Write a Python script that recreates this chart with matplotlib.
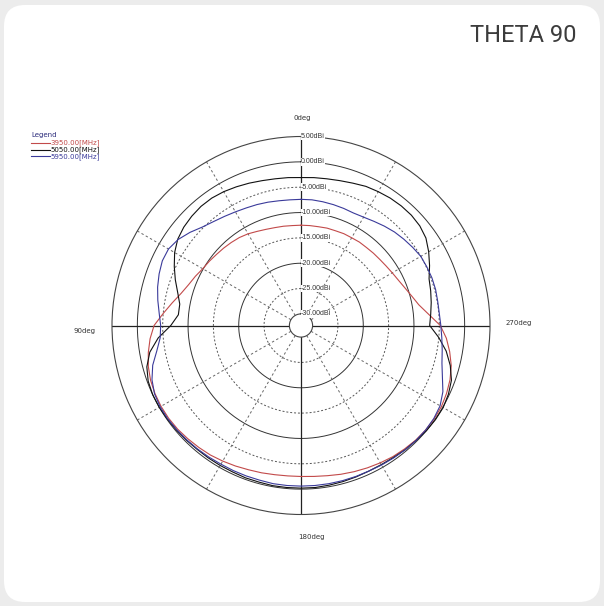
import numpy as np
import matplotlib.pyplot as plt
from matplotlib.patches import FancyBboxPatch
from matplotlib.lines import Line2D

# antenna gain (dBi) every 5 deg, 0deg at top, counter-clockwise (90deg left)
angles_deg = list(range(0, 360, 5))
gain_3950 = [-12.5, -12.5, -12.4, -12.3, -12.1, -11.8, -11.4, -11.1, -10.9, -10.7,
             -10.5, -10.2, -9.9, -9.3, -8.7, -7.8, -6.5, -5.0, -3.3, -2.4,
             -1.7, -1.1, -0.7, -0.5, -0.4, -0.4, -0.5, -0.7, -0.9, -1.1,
             -1.4, -1.7, -2.0, -2.2, -2.4, -2.5, -2.5, -2.4, -2.2, -1.9,
             -1.6, -1.3, -1.0, -0.7, -0.5, -0.3, -0.2, -0.2, -0.3, -0.6,
             -1.0, -1.6, -2.5, -3.5, -4.8, -7.0, -8.7, -9.7, -10.5, -11.1,
             -11.5, -11.8, -12.0, -12.1, -12.2, -12.2, -12.3, -12.3, -12.4, -12.4,
             -12.5, -12.5]
gain_5050 = [-3.1, -3.0, -2.9, -2.7, -2.4, -2.1, -1.8, -1.6, -1.6, -1.8,
             -2.1, -2.6, -3.5, -4.7, -5.9, -7.1, -8.0, -8.0, -6.6, -4.0,
             -2.0, -0.8, -0.2, 0.0, 0.0, -0.1, -0.2, -0.3, -0.4, -0.4,
             -0.4, -0.4, -0.3, -0.3, -0.2, -0.2, -0.2, -0.2, -0.3, -0.4,
             -0.5, -0.6, -0.6, -0.5, -0.3, -0.2, 0.0, 0.1, 0.1, -0.2,
             -0.7, -1.8, -3.2, -5.0, -6.9, -6.6, -6.2, -5.8, -5.4, -4.3,
             -3.2, -2.2, -1.7, -1.5, -1.5, -1.6, -1.8, -2.0, -2.4, -2.7,
             -2.9, -3.0]
gain_5950 = [-7.4, -7.4, -7.3, -7.1, -6.9, -6.7, -6.4, -6.0, -5.5, -4.8,
             -3.7, -2.7, -2.1, -2.1, -2.5, -3.0, -3.6, -4.2, -4.6, -4.4,
             -3.4, -2.0, -1.0, -0.4, -0.2, -0.2, -0.3, -0.4, -0.5, -0.6,
             -0.7, -0.7, -0.7, -0.7, -0.6, -0.6, -0.6, -0.6, -0.6, -0.6,
             -0.6, -0.6, -0.5, -0.4, -0.3, -0.2, -0.2, -0.3, -0.6, -1.4,
             -2.6, -3.5, -4.0, -4.4, -4.7, -4.9, -4.9, -4.8, -4.8, -4.9,
             -5.0, -5.4, -5.8, -6.2, -6.7, -7.2, -7.6, -7.8, -7.7, -7.6,
             -7.5, -7.4]

series_names = ['3950.00[MHz]', '5050.00[MHz]', '5950.00[MHz]']
series_colors = ['#c24a4a', '#111111', '#3a3a9a']

ring_levels = [5, 0, -5, -10, -15, -20, -25, -30]
ring_labels = ['5.00dBi', '0.00dBi', '-5.00dBi', '-10.00dBi', '-15.00dBi',
               '-20.00dBi', '-25.00dBi', '-30.00dBi']
ring_dashed = [False, False, True, False, True, False, True, False]
spoke_deg = [30, 60, 120, 150, 210, 240, 300, 330]

W, H = 604, 606
fig = plt.figure(figsize=(W / 100, H / 100), dpi=100)
fig.patch.set_facecolor('#ececec')
card = FancyBboxPatch((4 / W, 4 / H), 596 / W, 597 / H,
                      boxstyle='round,pad=0,rounding_size=0.035',
                      transform=fig.transFigure, facecolor='white',
                      edgecolor='none', zorder=-10)
fig.patches.append(card)

fig.text(577 / W, 1 - 36 / H, 'THETA 90', ha='right', va='center',
         fontsize=17, color='#3c3c3c', family='Roboto')

# polar axes: centre (301, 325.5) px, outer radius 189 px
cx, cy, R = 301, 325.5, 189
ax = fig.add_axes([(cx - R) / W, (H - cy - R) / H, 2 * R / W, 2 * R / H],
                  projection='polar')
ax.set_zorder(1)
ax.set_facecolor('none')
ax.set_theta_zero_location('N')
ax.set_theta_direction(1)
ax.set_ylim(-30, 5)
ax.set_rorigin(-30 - 11.6 / ((R - 11.6) / 35))
ax.set_xticks([])
ax.set_yticks([])
ax.grid(False)
for sp in ax.spines.values():
    sp.set_linewidth(0.8)
    sp.set_color('#444444')

ring_t = np.linspace(0, 2 * np.pi, 361)
for lvl, dashed in zip(ring_levels[1:-1], ring_dashed[1:-1]):
    ax.plot(ring_t, [lvl] * len(ring_t), color='#555555' if dashed else '#333333',
            lw=0.7, ls=(0, (2, 2)) if dashed else '-', zorder=1)
for a in spoke_deg:
    ax.plot([np.radians(a)] * 2, [-30, 5], color='#666666', lw=0.7,
            ls=(0, (2.5, 2.5)), zorder=1)
for a in [0, 90, 180, 270]:
    ax.plot([np.radians(a)] * 2, [-30, 5], color='#222222', lw=0.9, zorder=1)

for lvl, lab in zip(ring_levels, ring_labels):
    ax.text(0, lvl, lab, ha='left', va='center', fontsize=5,
            color='#333333', family='Liberation Sans', zorder=3,
            bbox=dict(facecolor='white', edgecolor='none', pad=0.2))

theta = np.radians(angles_deg + [360])
for vals, col in zip([gain_3950, gain_5050, gain_5950], series_colors):
    ax.plot(theta, vals + [vals[0]], color=col, lw=0.8, zorder=4)

# direction labels
fig.text(302 / W, 1 - 118 / H, '0deg', ha='center', va='center', fontsize=5, color='#333333')
fig.text(84 / W, 1 - 331 / H, '90deg', ha='center', va='center', fontsize=5, color='#333333')
fig.text(519 / W, 1 - 323 / H, '270deg', ha='center', va='center', fontsize=5, color='#333333')
fig.text(311 / W, 1 - 537 / H, '180deg', ha='center', va='center', fontsize=5, color='#333333')

# legend
fig.text(31 / W, 1 - 135 / H, 'Legend', ha='left', va='center', fontsize=5, color='#2a2a7a')
for i, (name, col) in enumerate(zip(series_names, series_colors)):
    y = 1 - (142.5 + i * 7) / H
    fig.lines.append(Line2D([31 / W, 50 / W], [y, y], color=col, lw=0.8,
                            transform=fig.transFigure))
    fig.text(50 / W, y, name, ha='left', va='center', fontsize=5, color=col)

fig.savefig('out.png', dpi=100, facecolor=fig.get_facecolor())
